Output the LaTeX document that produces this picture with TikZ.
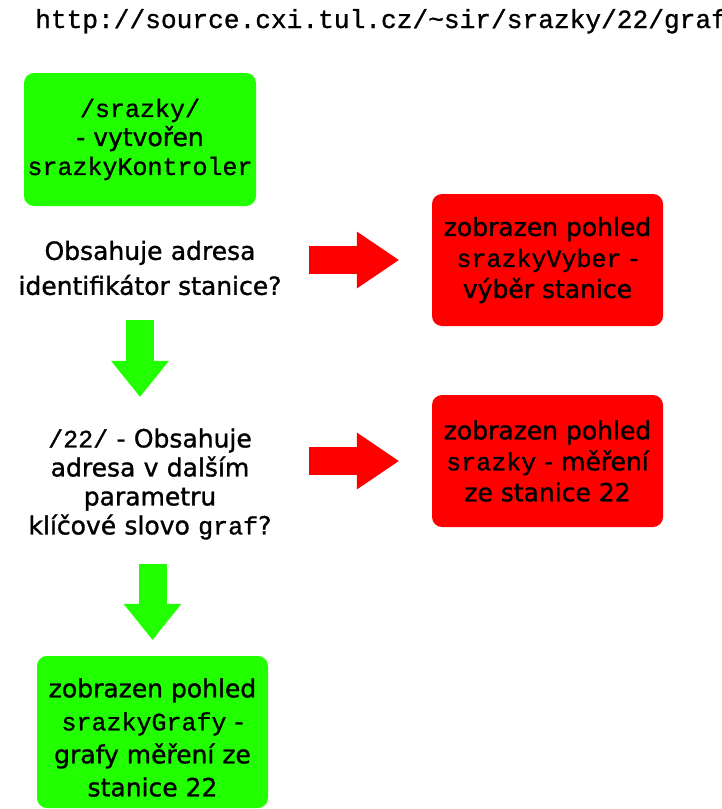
\documentclass[tikz,border=0pt]{standalone}
\usepackage{fontspec}
\setmainfont{DejaVu Sans}[RawFeature={embolden=1.2}]
\setmonofont{Liberation Mono}[RawFeature={embolden=1}]
\usetikzlibrary{arrows.meta,positioning}
\definecolor{zelena}{RGB}{34,255,0}
\definecolor{cervena}{RGB}{255,0,0}
\newcommand{\kod}[1]{{\ttfamily #1}}

\begin{document}
\begin{tikzpicture}[x=1pt,y=-1pt,
				every node/.style={font=\fontsize{25}{31}\selectfont},
				box/.style={rounded corners=10pt,minimum width=231pt,minimum height=132pt,align=center,inner sep=0pt},
				zbox/.style={box,fill=zelena},
				cbox/.style={box,fill=cervena},
				otazka/.style={text width=280pt,align=center,inner sep=0pt},
				zsipka/.style={zelena,line width=28pt,-{Triangle[length=36pt,width=58pt,line width=0pt]}},
				csipka/.style={cervena,line width=28pt,-{Triangle[length=42pt,width=57pt,line width=0pt]}}]
				\useasboundingbox (0,0) rectangle (721,809);
				\node[anchor=base west,inner sep=0pt,font=\fontsize{26.2}{30}\selectfont] (url) at (35,28) {\kod{http://source.cxi.tul.cz/\textasciitilde sir/srazky/22/graf}};
				\node[zbox,minimum width=232pt,minimum height=133pt,font=\fontsize{25}{29}\selectfont] (kontroler) at (140,139.5) {\kod{/srazky/}\\- vytvořen\\\kod{srazkyKontroler}};
				\node[otazka,minimum height=70pt,font=\fontsize{25}{35}\selectfont] (q1) at (150,268) {Obsahuje adresa\\identifikátor stanice?};
				\node[cbox] (vyber) at (547.5,260) {zobrazen pohled\\\kod{srazkyVyber} -\\výběr stanice};
				\node[otazka,minimum height=130pt,font=\fontsize{25}{29}\selectfont] (q2) at (150,484) {\kod{/22/ }- Obsahuje\\adresa v dalším\\parametru\\klíčové slovo \kod{graf}?};
				\node[cbox] (mereni) at (547.5,461) {zobrazen pohled\\\kod{srazky} - měření\\ze stanice 22};
				\node[zbox,minimum height=152pt,font=\fontsize{25}{33}\selectfont] (grafy) at (152.5,732) {\rule{0pt}{30pt}zobrazen pohled\\\kod{srazkyGrafy} -\\grafy měření ze\\stanice 22};
				\draw[csipka,shorten <=19pt,shorten >=33pt] (q1.east |- vyber.west) -- (vyber.west);
				\draw[csipka,shorten <=19pt,shorten >=33pt] (q2.east |- mereni.west) -- (mereni.west);
				\draw[zsipka,shorten <=17pt,shorten >=22pt] (q1.south -| kontroler.south) -- (q2.north -| kontroler.south);
				\draw[zsipka,shorten <=15pt,shorten >=16pt] (q2.south -| grafy.north) -- (grafy.north);
			\end{tikzpicture}
\end{document}
